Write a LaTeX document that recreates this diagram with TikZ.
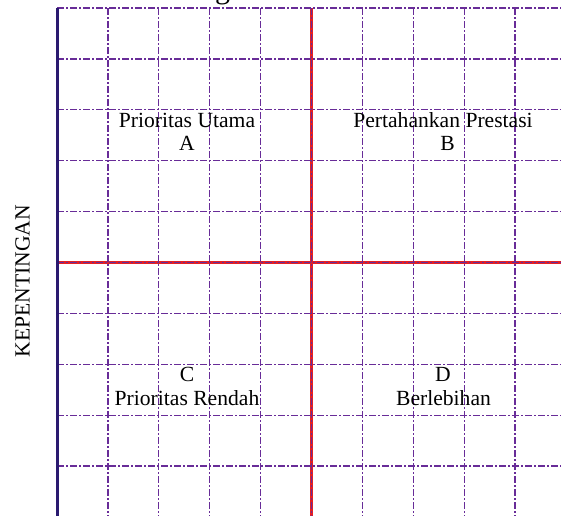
\documentclass[tikz,border=0pt]{standalone}
\usepackage{fontspec}
\setmainfont{Liberation Serif}
\definecolor{ungu}{RGB}{104,44,152}
\definecolor{biru}{RGB}{42,26,112}
\definecolor{merah}{RGB}{228,32,36}
\begin{document}
\begin{tikzpicture}[x=0.5pt,y=-0.5pt,
    garis/.style={draw=ungu,line width=0.65pt,dash pattern=on 3.5pt off 1pt on 1pt off 1pt},
    sumbu/.style={draw=merah,line width=1.5pt},
    tepi/.style={draw=biru,line width=1.5pt},
    teks/.style={font=\fontsize{10.8pt}{11.6pt}\selectfont,inner sep=0pt,anchor=base}]
    \useasboundingbox (0,0) rectangle (561,515);
    % sumbu tengah
    \draw [sumbu] (57,262) -- (570,262);
    \draw [sumbu] (311,8) -- (311,520);
    % kisi
    \foreach \i in {1,...,10}
      \draw [garis] ({57+50.9*\i},8) -- ({57+50.9*\i},520);
    \foreach \j in {0,...,10}
      \draw [garis] (57,{8+50.9*\j}) -- (570,{8+50.9*\j});
    \draw [tepi] (57.5,8) -- (57.5,520);
    % judul (terpotong)
    \node [font=\fontsize{15pt}{18pt}\selectfont,inner sep=0pt,anchor=base] (judul) at (222.5,-2) {g};
    \node [teks,rotate=90] (kepentingan) at (29.5,281) {KEPENTINGAN};
    % kuadran
    \node [teks] (a) at (187,127.5) {Prioritas Utama};
    \node [teks] (a-huruf) at (187,150.7) {A};
    \node [teks] (b) at (443,127.5) {Pertahankan Prestasi};
    \node [teks] (b-huruf) at (447.5,150.7) {B};
    \node [teks] (c-huruf) at (187,381.7) {C};
    \node [teks] (c) at (187,405.7) {Prioritas Rendah};
    \node [teks] (d-huruf) at (443,381.7) {D};
    \node [teks] (d) at (443.5,405.7) {Berlebihan};
\end{tikzpicture}
\end{document}
